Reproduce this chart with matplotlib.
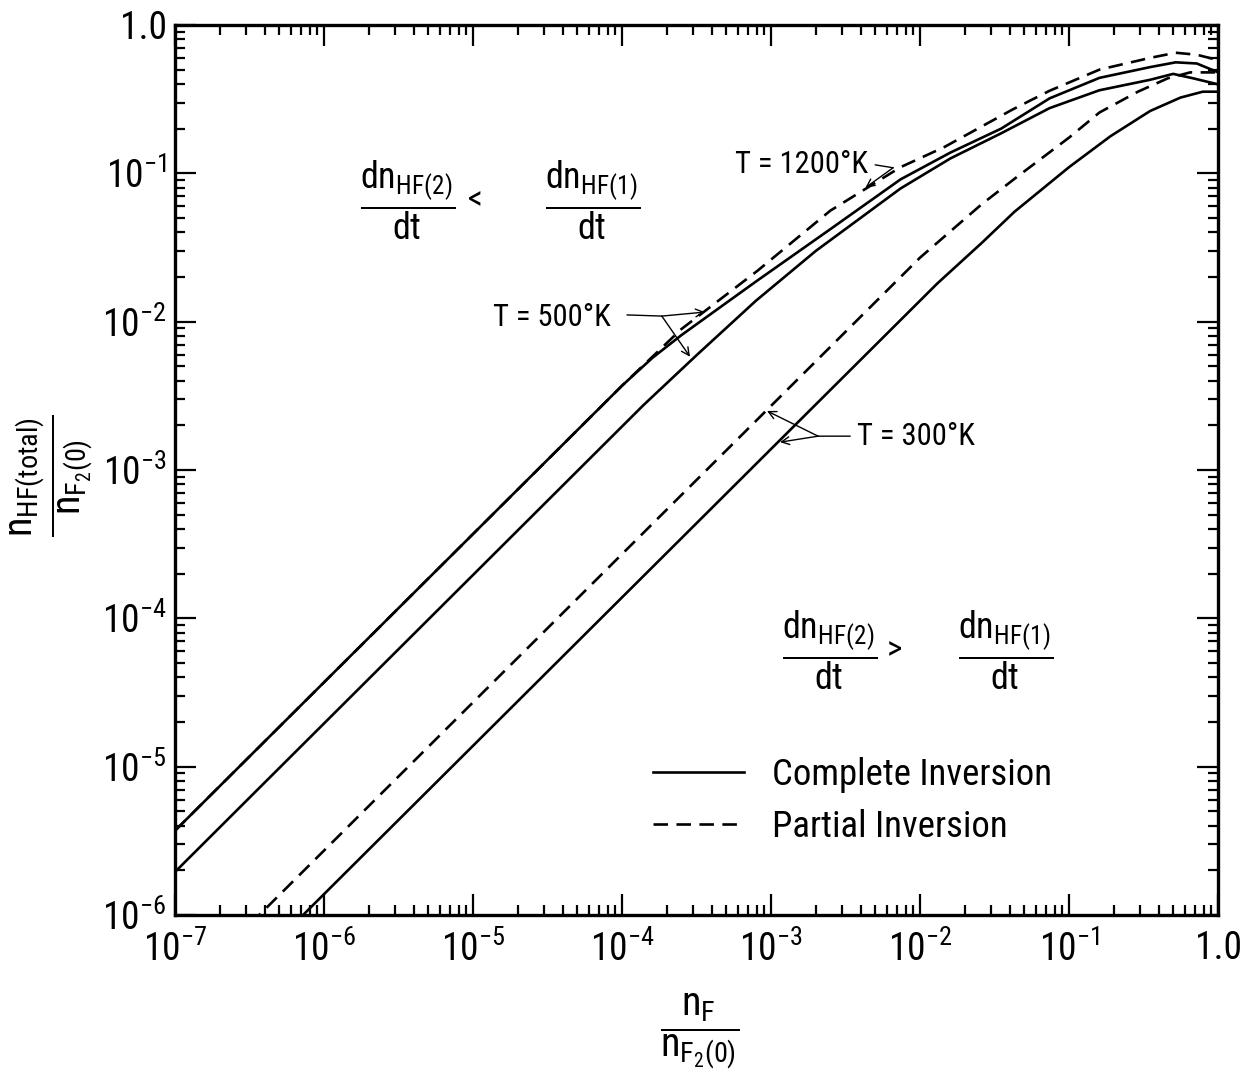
import matplotlib
matplotlib.use('Agg')
import matplotlib.pyplot as plt
from matplotlib.ticker import FixedLocator, LogLocator, NullFormatter

# narrow lettering if present, otherwise Liberation Sans
plt.rcParams['font.family'] = ['Liberation Sans Narrow', 'Noto Sans Condensed',
                               'Roboto Condensed', 'Liberation Sans', 'DejaVu Sans']
plt.rcParams['mathtext.default'] = 'regular'

# ---- curves (x = n_F/n_F2(0), y = n_HF(total)/n_F2(0)) ----
# T = 1200 K, complete inversion
x_1200 = [1e-7, 1e-4, 1.6e-4, 2.5e-4, 7.9e-4, 2.5e-3, 7.4e-3, 1.6e-2, 3.5e-2, 7.4e-2, 0.16, 0.35, 0.52, 0.72, 1.0]
y_1200 = [3.7e-6, 3.7e-3, 5.7e-3, 8.1e-3, 1.86e-2, 4.2e-2, 9.1e-2, 0.138, 0.20, 0.32, 0.44, 0.52, 0.56, 0.55, 0.48]

# T = 500 K, partial inversion (runs on the 1200 K curve at low n_F)
x_500p = [1e-7, 1e-4, 1.6e-4, 2.5e-4, 8.1e-4, 2.5e-3, 7.4e-3, 1.45e-2, 4.2e-2, 7.4e-2, 0.16, 0.35, 0.52, 0.72, 1.0]
y_500p = [3.7e-6, 3.7e-3, 5.8e-3, 8.9e-3, 2.2e-2, 5.6e-2, 0.11, 0.15, 0.27, 0.36, 0.50, 0.60, 0.65, 0.63, 0.58]

# T = 500 K, complete inversion
x_500c = [1e-7, 1.4e-4, 3.2e-4, 7.9e-4, 2.0e-3, 7.4e-3, 1.6e-2, 3.5e-2, 7.4e-2, 0.16, 0.35, 0.50, 0.68, 1.0]
y_500c = [1.95e-6, 2.75e-3, 6.0e-3, 1.38e-2, 3.0e-2, 7.9e-2, 0.126, 0.186, 0.275, 0.363, 0.427, 0.468, 0.437, 0.398]

# T = 300 K, partial inversion
x_300p = [3.2e-7, 1.0e-2, 2.6e-2, 4.5e-2, 0.10, 0.16, 0.29, 0.46, 0.65, 1.0]
y_300p = [8.7e-7, 2.7e-2, 6.2e-2, 9.5e-2, 0.174, 0.257, 0.355, 0.437, 0.479, 0.479]

# T = 300 K, complete inversion
x_300c = [6.3e-7, 1.3e-2, 2.6e-2, 4.3e-2, 0.10, 0.19, 0.35, 0.56, 0.79, 1.0]
y_300c = [8.7e-7, 1.8e-2, 3.4e-2, 5.5e-2, 0.11, 0.178, 0.263, 0.324, 0.355, 0.355]

x_ticks = [1e-7, 1e-6, 1e-5, 1e-4, 1e-3, 1e-2, 1e-1, 1.0]
x_ticklabels = [r'$10^{-7}$', r'$10^{-6}$', r'$10^{-5}$', r'$10^{-4}$',
                r'$10^{-3}$', r'$10^{-2}$', r'$10^{-1}$', '1.0']
y_ticks = [1e-6, 1e-5, 1e-4, 1e-3, 1e-2, 1e-1, 1.0]
y_ticklabels = [r'$10^{-6}$', r'$10^{-5}$', r'$10^{-4}$', r'$10^{-3}$',
                r'$10^{-2}$', r'$10^{-1}$', '1.0']

# ---- figure ---------------------------------------------------------------
fig = plt.figure(figsize=(12.42, 10.86), dpi=100)
ax = fig.add_axes([0.1409, 0.1575, 0.8398, 0.8195])

lw = 1.9
dash = (5.5, 3.2)
ax.plot(x_1200, y_1200, '-', color='black', lw=lw)
ax.plot(x_500p, y_500p, color='black', lw=lw, dashes=dash)
ax.plot(x_500c, y_500c, '-', color='black', lw=lw)
ax.plot(x_300c, y_300c, '-', color='black', lw=lw, label='Complete Inversion')
ax.plot(x_300p, y_300p, color='black', lw=lw, dashes=dash, label='Partial Inversion')

ax.set_xscale('log')
ax.set_yscale('log')
ax.set_xlim(1e-7, 1.0)
ax.set_ylim(1e-6, 1.0)

ax.xaxis.set_major_locator(FixedLocator(x_ticks))
ax.set_xticklabels(x_ticklabels)
ax.yaxis.set_major_locator(FixedLocator(y_ticks))
ax.set_yticklabels(y_ticklabels)
for a in (ax.xaxis, ax.yaxis):
    a.set_minor_locator(LogLocator(base=10, subs=range(2, 10)))
    a.set_minor_formatter(NullFormatter())

ax.tick_params(which='both', direction='in', top=True, right=True, width=1.6,
               labelsize=27)
ax.tick_params(which='major', length=15)
ax.tick_params(which='minor', length=7)
ax.tick_params(axis='x', pad=11)
ax.tick_params(axis='y', pad=6)
for s in ax.spines.values():
    s.set_linewidth(2.4)

# ---- temperature labels with leaders --------------------------------------
arrow = dict(arrowstyle='->', color='black', lw=1.0, shrinkA=0, shrinkB=0,
             mutation_scale=14)
line = dict(arrowstyle='-', color='black', lw=1.0, shrinkA=0, shrinkB=0)

# 1200 K
ax.text(5.7e-4, 0.114, 'T = 1200°K', fontsize=22, ha='left', va='center')
ax.annotate('', xy=(6.6e-3, 0.109), xytext=(5.0e-3, 0.114), arrowprops=line)
ax.annotate('', xy=(4.3e-3, 0.080), xytext=(6.6e-3, 0.109), arrowprops=arrow)

# 500 K
ax.text(1.36e-5, 0.0106, 'T = 500°K', fontsize=22, ha='left', va='center')
ax.annotate('', xy=(1.85e-4, 0.0109), xytext=(1.08e-4, 0.0111), arrowprops=line)
ax.annotate('', xy=(3.6e-4, 0.0116), xytext=(1.85e-4, 0.0109), arrowprops=arrow)
ax.annotate('', xy=(2.86e-4, 5.8e-3), xytext=(1.85e-4, 0.0109), arrowprops=arrow)

# 300 K
ax.text(3.8e-3, 1.67e-3, 'T = 300°K', fontsize=22, ha='left', va='center')
ax.annotate('', xy=(2.07e-3, 1.69e-3), xytext=(3.4e-3, 1.69e-3), arrowprops=line)
ax.annotate('', xy=(9.4e-4, 2.5e-3), xytext=(2.07e-3, 1.69e-3), arrowprops=arrow)
ax.annotate('', xy=(1.15e-3, 1.54e-3), xytext=(2.07e-3, 1.69e-3), arrowprops=arrow)

# ---- rate-comparison inequalities -----------------------------------------
frac2 = r'$\dfrac{dn_{HF(2)}}{dt}$'
frac1 = r'$\dfrac{dn_{HF(1)}}{dt}$'
ax.text(0.223, 0.803, frac2, transform=ax.transAxes, fontsize=26, ha='center', va='center')
ax.text(0.288, 0.803, '<', transform=ax.transAxes, fontsize=24, ha='center', va='center')
ax.text(0.400, 0.803, frac1, transform=ax.transAxes, fontsize=26, ha='center', va='center')

ax.text(0.628, 0.298, frac2, transform=ax.transAxes, fontsize=26, ha='center', va='center')
ax.text(0.690, 0.298, '>', transform=ax.transAxes, fontsize=24, ha='center', va='center')
ax.text(0.796, 0.298, frac1, transform=ax.transAxes, fontsize=26, ha='center', va='center')

# ---- legend ---------------------------------------------------------------
ax.legend(loc='upper left', bbox_to_anchor=(0.427, 0.215), frameon=False,
          fontsize=26.5, handlelength=2.45, handletextpad=0.76, labelspacing=0.45)

# ---- axis labels (stacked fractions) --------------------------------------
fig.text(0.042, 0.562, r'$\dfrac{n_{HF(total)}}{n_{F_2(0)}}$', rotation=90,
         fontsize=29, ha='center', va='center')
fig.text(0.563, 0.05, r'$\dfrac{n_F}{n_{F_2(0)}}$', fontsize=29,
         ha='center', va='center')

fig.savefig('out.png', dpi=100)
